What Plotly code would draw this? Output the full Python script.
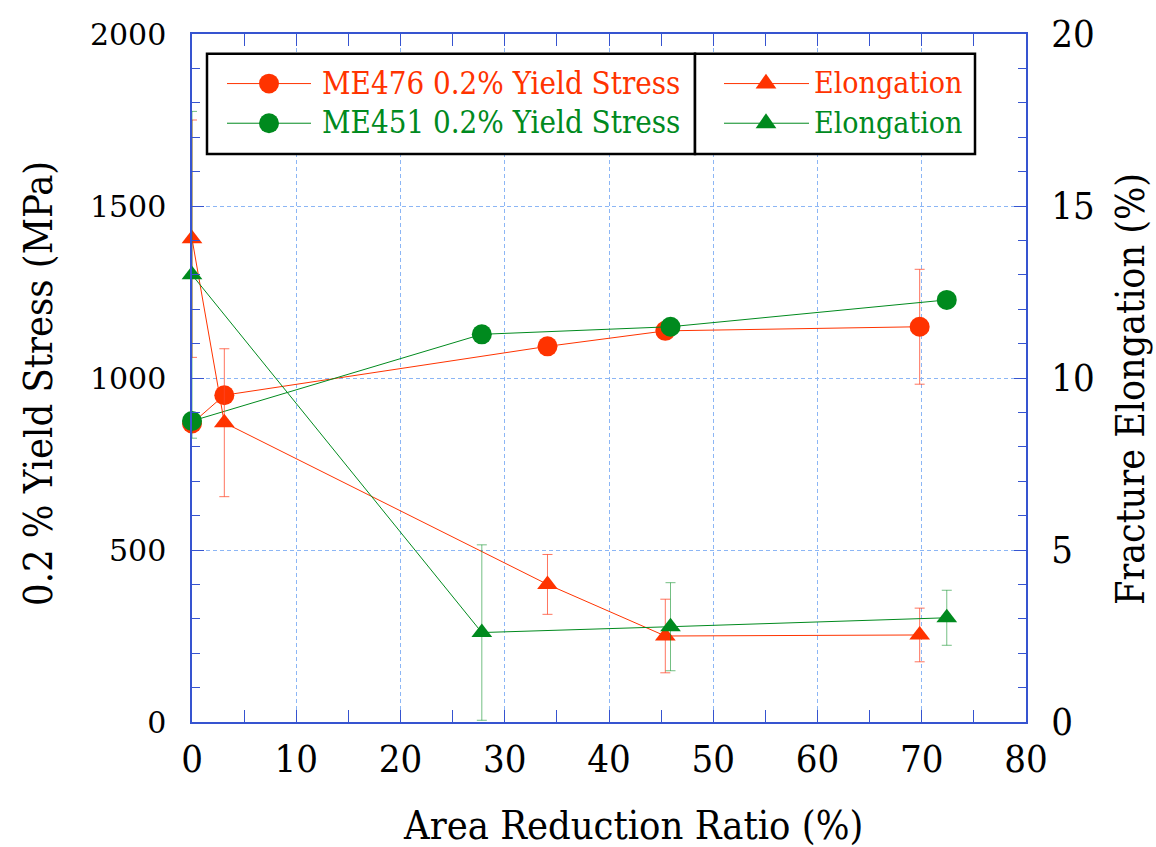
import plotly.graph_objects as go

# ---- data -------------------------------------------------------------
me476_ratio = [0.0, 3.1, 34.1, 45.4, 69.8]
me476_yield = [868, 950, 1092, 1137, 1149]
me476_yield_err = [0, 0, 0, 0, 167]
me476_elong = [14.05, 8.7, 4.0, 2.5, 2.53]
me476_elong_err = [3.45, 2.15, 0.87, 1.07, 0.78]

me451_ratio = [0.0, 27.8, 45.9, 72.4]
me451_yield = [875, 1127, 1149, 1227]
me451_elong = [13.0, 2.6, 2.77, 3.03]
me451_elong_err = [4.75, 2.55, 1.28, 0.8]

x_ticks = [0, 10, 20, 30, 40, 50, 60, 70, 80]
y_ticks = [0, 500, 1000, 1500, 2000]
y2_ticks = [0, 5, 10, 15, 20]

legend_rows = [
    ("ME476 0.2% Yield Stress", "Elongation"),
    ("ME451 0.2% Yield Stress", "Elongation"),
]

# ---- style ------------------------------------------------------------
RED = "#FF3300"
GREEN = "#008A1E"
RED_ERR = "rgba(255,70,40,0.75)"
GREEN_ERR = "rgba(0,138,30,0.55)"
AXIS = "#3654d0"
GRID = "#8cb6f5"
SERIF = "DejaVu Serif"
NARROW = "DejaVu Serif Condensed, DejaVu Serif"

W, H = 1156, 847
L, R, T, B = 192, 1026, 28, 722  # plot-area edges in pixels


def fx(px):
    return (px - L) / (R - L)


def fy(py):
    return (B - py) / (B - T)


fig = go.Figure()

fig.add_trace(go.Scatter(
    x=me476_ratio, y=me476_yield, mode="lines+markers", cliponaxis=False,
    line=dict(color=RED, width=1), marker=dict(symbol="circle", size=20, color=RED),
    error_y=dict(type="data", array=me476_yield_err, color=RED_ERR, thickness=1, width=5),
    showlegend=False,
))
fig.add_trace(go.Scatter(
    x=me451_ratio, y=me451_yield, mode="lines+markers", cliponaxis=False,
    line=dict(color=GREEN, width=1), marker=dict(symbol="circle", size=20, color=GREEN),
    showlegend=False,
))
fig.add_trace(go.Scatter(
    x=me476_ratio, y=me476_elong, yaxis="y2", mode="lines+markers", cliponaxis=False,
    line=dict(color=RED, width=1), marker=dict(symbol="triangle-up", size=18, color=RED),
    error_y=dict(type="data", array=me476_elong_err, color=RED_ERR, thickness=1, width=5),
    showlegend=False,
))
fig.add_trace(go.Scatter(
    x=me451_ratio, y=me451_elong, yaxis="y2", mode="lines+markers", cliponaxis=False,
    line=dict(color=GREEN, width=1), marker=dict(symbol="triangle-up", size=18, color=GREEN),
    error_y=dict(type="data", array=me451_elong_err, color=GREEN_ERR, thickness=1, width=5),
    showlegend=False,
))

# ---- legend (two framed panels) ---------------------------------------
shapes = []
annotations = []
panel_top, panel_bot = 48, 149
panels = [(207, 695), (695, 975)]
for x0, x1 in panels:
    shapes.append(dict(type="rect", xref="paper", yref="paper",
                       x0=fx(x0), x1=fx(x1), y0=fy(panel_bot), y1=fy(panel_top),
                       line=dict(color="black", width=2.5), fillcolor="white", layer="above"))

row_y = [78, 118]
row_colors = [RED, GREEN]
for (left_txt, right_txt), ry, col in zip(legend_rows, row_y, row_colors):
    shapes.append(dict(type="line", xref="paper", yref="paper",
                       x0=fx(227), x1=fx(311), y0=fy(ry), y1=fy(ry),
                       line=dict(color=col, width=1), layer="above"))
    shapes.append(dict(type="circle", xref="paper", yref="paper",
                       x0=fx(259), x1=fx(279), y0=fy(ry + 10), y1=fy(ry - 10),
                       line=dict(color=col, width=0), fillcolor=col, layer="above"))
    annotations.append(dict(xref="paper", yref="paper", x=fx(320), y=fy(ry - 1),
                            xanchor="left", yanchor="middle", showarrow=False,
                            text=left_txt, font=dict(family=NARROW, size=31, color=col)))
    shapes.append(dict(type="line", xref="paper", yref="paper",
                       x0=fx(724), x1=fx(809), y0=fy(ry), y1=fy(ry),
                       line=dict(color=col, width=1), layer="above"))
    tx = 766
    shapes.append(dict(type="path", xref="paper", yref="paper",
                       path="M {a},{b} L {c},{b} L {d},{e} Z".format(
                           a=fx(tx - 10.4), b=fy(ry + 5), c=fx(tx + 10.4), d=fx(tx), e=fy(ry - 10)),
                       line=dict(color=col, width=0), fillcolor=col, layer="above"))
    annotations.append(dict(xref="paper", yref="paper", x=fx(812), y=fy(ry - 1),
                            xanchor="left", yanchor="middle", showarrow=False,
                            text=right_txt, font=dict(family=NARROW, size=30, color=col)))

# ---- axis titles ------------------------------------------------------
annotations.append(dict(xref="paper", yref="paper", x=fx(633), y=fy(826),
                        xanchor="center", yanchor="middle", showarrow=False,
                        text="Area Reduction Ratio (%)",
                        font=dict(family=NARROW, size=39.5, color="black")))
annotations.append(dict(xref="paper", yref="paper", x=fx(38), y=fy(381),
                        xanchor="center", yanchor="middle", showarrow=False, textangle=-90,
                        text="0.2 % Yield Stress (MPa)",
                        font=dict(family=NARROW, size=39.5, color="black")))
annotations.append(dict(xref="paper", yref="paper", x=fx(1131), y=fy(386),
                        xanchor="center", yanchor="middle", showarrow=False, textangle=-90,
                        text="Fracture Elongation (%)",
                        font=dict(family=NARROW, size=39, color="black")))

fig.update_layout(
    width=W, height=H,
    margin=dict(l=L, r=W - R, t=T, b=H - B, pad=0),
    paper_bgcolor="white", plot_bgcolor="white",
    showlegend=False,
    shapes=shapes, annotations=annotations,
    xaxis=dict(
        range=[0, 80], tickvals=x_ticks, ticktext=[str(v) for v in x_ticks],
        ticks="inside", ticklen=12, tickcolor=AXIS, tickwidth=1,
        minor=dict(dtick=5, ticks="inside", ticklen=8, tickcolor=AXIS, showgrid=False),
        showline=True, linecolor=AXIS, linewidth=1.5, mirror="allticks",
        showgrid=True, gridcolor=GRID, griddash="4px,3px", gridwidth=1,
        zeroline=False, ticklabelstandoff=3,
        tickfont=dict(family=NARROW, size=38, color="black"),
    ),
    yaxis=dict(
        range=[0, 2000], tickvals=y_ticks, ticktext=[str(v) for v in y_ticks],
        ticks="inside", ticklen=12, tickcolor=AXIS, tickwidth=1,
        minor=dict(dtick=100, ticks="inside", ticklen=8, tickcolor=AXIS, showgrid=False),
        showline=True, linecolor=AXIS, linewidth=1.5,
        showgrid=True, gridcolor=GRID, griddash="4px,3px", gridwidth=1,
        zeroline=False, ticklabelstandoff=18,
        tickfont=dict(family=SERIF, size=30, color="black"),
    ),
    yaxis2=dict(
        range=[0, 20], tickvals=y2_ticks, ticktext=[str(v) for v in y2_ticks],
        overlaying="y", side="right",
        ticks="inside", ticklen=12, tickcolor=AXIS, tickwidth=1,
        minor=dict(dtick=1, ticks="inside", ticklen=8, tickcolor=AXIS, showgrid=False),
        showline=True, linecolor=AXIS, linewidth=1.5,
        showgrid=False, zeroline=False, ticklabelstandoff=16,
        tickfont=dict(family=NARROW, size=38, color="black"),
    ),
)

fig.write_html("out.html")
